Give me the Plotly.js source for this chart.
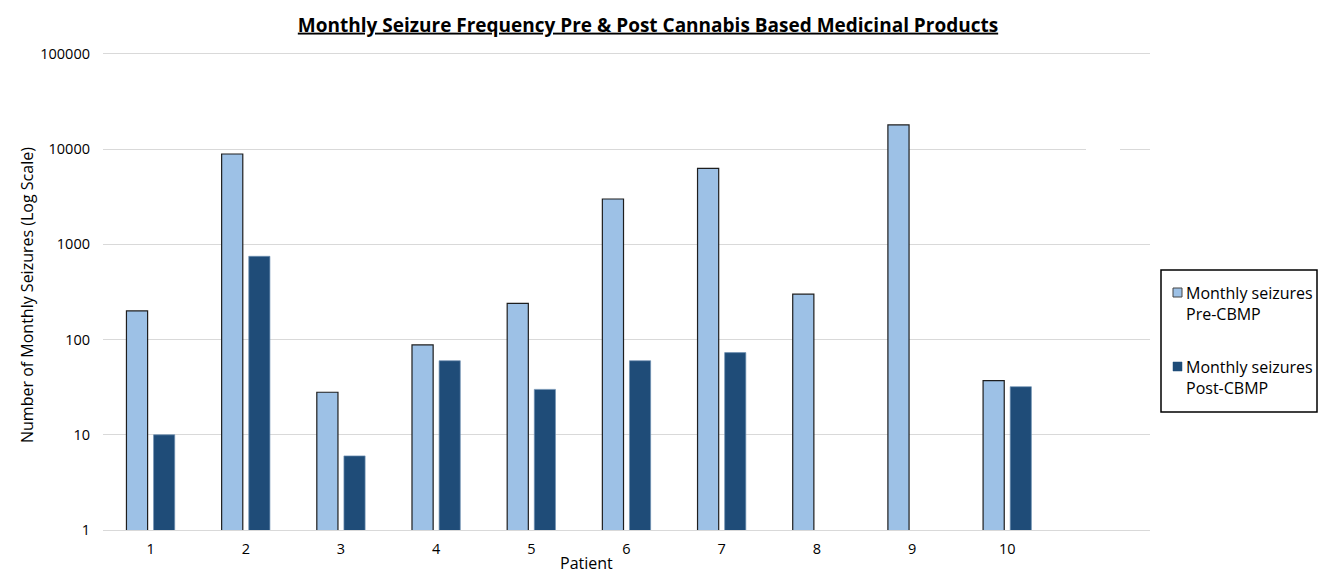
<!DOCTYPE html>
<html>
<head>
<meta charset="utf-8">
<script src="https://cdn.plot.ly/plotly-3.0.1.min.js"></script>
<style>
html,body{margin:0;padding:0;background:#fff;}
#chart{width:1319px;height:573px;}
</style>
</head>
<body>
<div id="chart"></div>
<script>
// ---- data ----
const patients = [1, 2, 3, 4, 5, 6, 7, 8, 9, 10];
const preCBMP  = [200, 8900, 28, 88, 240, 3000, 6300, 300, 18000, 37];
const postCBMP = [10, 750, 6, 60, 30, 60, 73, null, null, 32];
const seriesNames = ['Monthly seizures Pre-CBMP', 'Monthly seizures Post-CBMP'];
const legendLines = [['Monthly seizures', 'Pre-CBMP'], ['Monthly seizures', 'Post-CBMP']];
const yTickVals = [1, 10, 100, 1000, 10000, 100000];
const yTickText = ['1', '10', '100', '1000', '10000', '100000'];
const titleText = 'Monthly Seizure Frequency Pre & Post Cannabis Based Medicinal Products';
const yTitle = 'Number of Monthly Seizures (Log Scale)';
const xTitle = 'Patient';

// ---- style ----
const preColor = '#9DC1E6';
const postColor = '#1F4C78';
const FONT = '"Open Sans", "Noto Sans", sans-serif';

// pixel helpers (plot area: x 103..1150, y 54..530)
const L = 103, R = 1150, T = 54, B = 530;
const px = v => (v - L) / (R - L);
const py = v => (B - v) / (B - T);

const traces = [
  {
    type: 'bar', name: seriesNames[0], x: patients, y: preCBMP,
    marker: {color: preColor, line: {color: '#1e1e1e', width: 1.2}},
    showlegend: false
  },
  {
    type: 'bar', name: seriesNames[1], x: patients, y: postCBMP,
    marker: {color: postColor, line: {color: '#6f90b3', width: 0.7}},
    showlegend: false
  }
];

// custom legend
const shapes = [
  {type: 'rect', xref: 'paper', yref: 'paper', x0: px(1161), x1: px(1317), y0: py(412), y1: py(270),
   line: {color: '#000', width: 1.5}, fillcolor: 'rgba(0,0,0,0)', layer: 'above'},
  {type: 'rect', xref: 'paper', yref: 'paper', x0: px(1173), x1: px(1182), y0: py(297), y1: py(288),
   line: {color: '#444', width: 1}, fillcolor: preColor, layer: 'above'},
  {type: 'rect', xref: 'paper', yref: 'paper', x0: px(1173), x1: px(1182), y0: py(371), y1: py(362),
   line: {color: postColor, width: 0.5}, fillcolor: postColor, layer: 'above'},
  // small break in the 10000 gridline seen in the original
  {type: 'rect', xref: 'paper', yref: 'paper', x0: px(1086), x1: px(1120), y0: py(151), y1: py(147),
   line: {width: 0}, fillcolor: '#ffffff', layer: 'above'}
];

const legFont = {family: FONT, size: 16, color: '#000'};
const annotations = [
  {xref: 'paper', yref: 'paper', x: px(1184), y: py(293), text: legendLines[0][0], showarrow: false,
   xanchor: 'left', yanchor: 'middle', font: legFont},
  {xref: 'paper', yref: 'paper', x: px(1184), y: py(314), text: legendLines[0][1], showarrow: false,
   xanchor: 'left', yanchor: 'middle', font: legFont},
  {xref: 'paper', yref: 'paper', x: px(1184), y: py(367), text: legendLines[1][0], showarrow: false,
   xanchor: 'left', yanchor: 'middle', font: legFont},
  {xref: 'paper', yref: 'paper', x: px(1184), y: py(388), text: legendLines[1][1], showarrow: false,
   xanchor: 'left', yanchor: 'middle', font: legFont},
  {xref: 'paper', yref: 'paper', x: px(586), y: py(563), text: xTitle, showarrow: false,
   xanchor: 'center', yanchor: 'middle', font: {family: FONT, size: 16, color: '#000'}},
  {xref: 'paper', yref: 'paper', x: px(27), y: py(295), text: yTitle, showarrow: false, textangle: -90,
   xanchor: 'center', yanchor: 'middle', font: {family: FONT, size: 16, color: '#000'}}
];

const layout = {
  width: 1319, height: 573,
  margin: {l: L, r: 1319 - R, t: T, b: 573 - B, pad: 0},
  paper_bgcolor: '#fff', plot_bgcolor: '#fff',
  font: {family: FONT, color: '#000'},
  title: {
    text: '<b><u>' + titleText.replace('&', '&amp;') + '</u></b>',
    font: {family: FONT, size: 19, color: '#000'},
    xref: 'container', x: 648 / 1319, xanchor: 'center',
    yref: 'container', y: (573 - 25) / 573, yanchor: 'middle'
  },
  barmode: 'group', bargap: 0.43, bargroupgap: 0.22,
  showlegend: false,
  xaxis: {
    type: 'linear', range: [0.5, 11.5], tickmode: 'array', tickvals: patients,
    ticktext: patients.map(String), showgrid: false, zeroline: false,
    showline: true, mirror: true, linecolor: '#d9d9d9', linewidth: 1, ticks: '',
    ticklabelstandoff: 6,
    tickfont: {family: FONT, size: 14.5, color: '#000'}, fixedrange: true
  },
  yaxis: {
    type: 'log', range: [0, 5], tickmode: 'array', tickvals: yTickVals, ticktext: yTickText,
    showgrid: true, gridcolor: '#d9d9d9', gridwidth: 1, zeroline: false, showline: false,
    ticks: '', ticklabelstandoff: 12,
    tickfont: {family: FONT, size: 14.5, color: '#000'},
    automargin: false, fixedrange: true
  },
  shapes: shapes,
  annotations: annotations
};

Plotly.newPlot('chart', traces, layout, {displayModeBar: false, staticPlot: true});
</script>
</body>
</html>
